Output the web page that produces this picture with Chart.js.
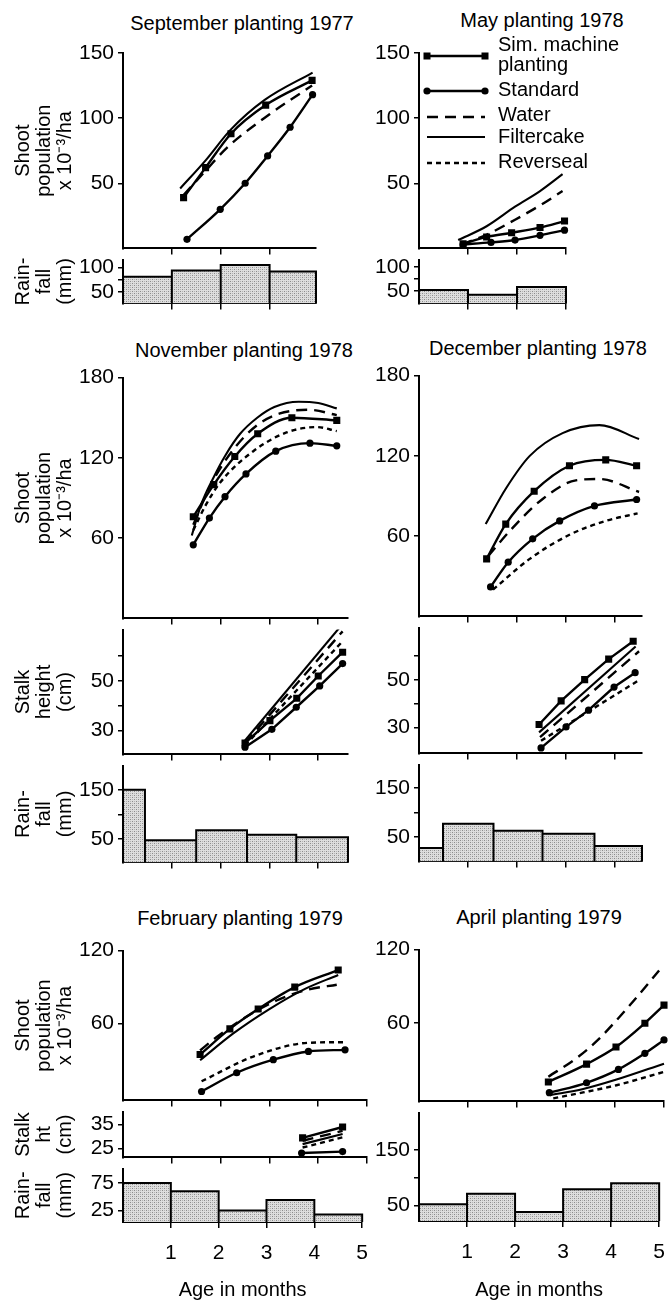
<!DOCTYPE html>
<html><head><meta charset="utf-8">
<script src="https://cdn.jsdelivr.net/npm/chart.js@4"></script>
<style>
body{margin:0;background:#fff;width:672px;height:1300px;position:relative;overflow:hidden;font-family:"Liberation Sans",Arial,Helvetica,sans-serif;}
canvas{position:absolute;}
.t{position:absolute;font-size:20px;color:#000;white-space:nowrap;transform:translate(-50%,-50%);line-height:1;}
</style></head><body>
<div class="t" style="left:242px;top:23px">September planting 1977</div>
<div class="t" style="left:542px;top:20px">May planting 1978</div>
<div class="t" style="left:244px;top:350px">November planting 1978</div>
<div class="t" style="left:538px;top:348px">December planting 1978</div>
<div class="t" style="left:240px;top:918px">February planting 1979</div>
<div class="t" style="left:539px;top:917px">April planting 1979</div>
<script>
// ---------- DATA (age in months, value) ----------
const AGE_TICKS = [1, 2, 3, 4, 5];
const LEGEND_LABELS = [['Sim. machine', 'planting'], ['Standard'], ['Water'], ['Filtercake'], ['Reverseal']];

// September planting 1977 – shoot population (x10^-3 /ha)
const sepSim    = [[1.24,39],[1.69,62],[2.21,88],[2.92,110],[3.87,129]];
const sepStd    = [[1.31,7],[1.99,30],[2.5,50],[2.96,71],[3.42,93],[3.88,118]];
const sepWater  = [[1.24,41],[1.7,60],[2.12,77],[3.0,103],[3.87,125]];
const sepFilter = [[1.17,46],[1.7,68],[2.2,91],[2.9,114],[3.88,135]];
const sepRainEdges = [0,1,2,3,3.95];
const sepRain      = [81,94,105,92];

// May planting 1978
const maySim    = [[0.9,3.5],[1.38,8.8],[1.89,12],[2.47,16],[2.97,21]];
const mayStd    = [[0.9,3],[1.47,4.6],[1.96,6.4],[2.47,10],[2.97,14]];
const mayWater  = [[0.87,3],[1.41,11],[1.96,22],[2.47,33],[2.93,44]];
const mayFilter = [[0.8,6.4],[1.38,17],[1.96,32],[2.47,44],[2.93,57]];
const mayRainEdges = [0,1,2,3];
const mayRain      = [52,42,58];

// November planting 1978
const novSim    = [[1.44,76],[1.86,100],[2.29,121],[2.76,138],[3.46,150],[4.38,148]];
const novStd    = [[1.44,55],[1.77,75],[2.09,91],[2.52,108],[3.13,125],[3.83,131],[4.38,129]];
const novWater  = [[1.44,70],[1.8,100],[2.3,128],[2.77,145],[3.2,153],[3.8,156],[4.38,152]];
const novFilter = [[1.41,62],[1.6,85],[1.85,105],[2.1,122],[2.4,138],[2.75,150],[3.1,158],[3.6,162],[4.0,161],[4.38,157]];
const novRev    = [[1.44,66],[1.7,85],[2.0,102],[2.67,125],[3.35,139],[3.97,143],[4.38,140]];
const novStalkSim    = [[2.5,25],[3.01,34],[3.56,43],[4.0,52],[4.5,61.6]];
const novStalkStd    = [[2.5,23.3],[3.05,30.5],[3.55,39.4],[4.03,48],[4.5,57]];
const novStalkWater  = [[2.5,25],[4.5,70]];
const novStalkFilter = [[2.5,26],[4.5,73]];
const novStalkRev    = [[2.5,24],[4.5,66]];
const novRainEdges = [0,0.45,1.5,2.54,3.55,4.61];
const novRain      = [150,48,68,59,54];

// December planting 1978
const decSim    = [[1.38,43],[1.77,69],[2.35,93.6],[3.07,112.6],[3.81,117],[4.44,112.6]];
const decStd    = [[1.46,22],[1.82,40.5],[2.32,58],[2.87,71.4],[3.58,82.6],[4.44,87.4]];
const decWater  = [[1.41,45],[1.88,65],[2.53,88],[3.2,101.7],[3.68,102.7],[4.49,93]];
const decFilter = [[1.36,69],[1.78,96],[2.26,120],[2.93,137],[3.68,143],[4.49,132.6]];
const decRev    = [[1.51,20],[2.26,43],[3.07,61],[3.81,71.4],[4.46,77]];
const decStalkSim    = [[2.45,31.3],[2.9,41.2],[3.38,50.1],[3.87,58.7],[4.37,66.2]];
const decStalkStd    = [[2.49,21.5],[3.0,30.3],[3.46,37.3],[3.98,47],[4.41,53]];
const decStalkWater  = [[2.47,26],[4.49,62]];
const decStalkFilter = [[2.45,28],[4.42,64]];
const decStalkRev    = [[2.49,24.5],[4.46,49.5]];
const decRainEdges = [0,0.49,1.52,2.52,3.58,4.55];
const decRain      = [28,77,63,57,32];

// February planting 1979
const febSim    = [[1.58,34.7],[2.19,55.7],[2.77,72],[3.52,90],[4.41,104]];
const febStd    = [[1.61,4.3],[2.33,19.7],[3.08,30.4],[3.8,37.2],[4.55,38.5]];
const febWater  = [[1.58,38],[1.92,49],[2.5,65],[3.2,80],[3.8,88],[4.38,92]];
const febFilter = [[1.58,30],[2.26,52],[3.0,72],[3.7,88],[4.41,100]];
const febRev    = [[1.61,12.7],[2.67,33],[3.8,44.3],[4.58,44.8]];
const febStalkSim    = [[3.68,29.4],[4.5,33.9]];
const febStalkStd    = [[3.66,23.1],[4.5,23.7]];
const febStalkWater  = [[3.68,28.2],[4.5,32.3]];
const febStalkFilter = [[3.68,26.8],[4.5,31]];
const febStalkRev    = [[3.68,25.4],[4.5,29.6]];
const febRainEdges = [0,1,2,3,4,5];
const febRain      = [75,60,25,44,18];

// April planting 1979
const aprSim    = [[2.64,12],[3.42,26.6],[4.02,40.5],[4.61,60],[5.0,74.7]];
const aprStd    = [[2.66,3.3],[3.42,11.4],[4.07,22.3],[4.61,35.4],[5.0,46.3]];
const aprWater  = [[2.64,16.4],[3.2,31],[3.63,45.5],[4.31,75],[4.9,103]];
const aprFilter = [[2.67,1.3],[3.35,6.3],[4.03,14],[5.0,27]];
const aprRev    = [[2.74,-1.3],[3.35,3.5],[4.03,9.4],[5.0,20.3]];
const aprRainEdges = [0,1,2,3,4,5];
const aprRain      = [52,71,38,79,90];

// ---------- STYLE / BUILD ----------
const FONT = '"Liberation Sans", Arial, Helvetica, sans-serif';
Chart.defaults.font.family = FONT;
Chart.defaults.color = '#000';
const COLS = { L:{x0:0, yw:123, ppm:48.8}, R:{x0:336, yw:83, ppm:49} };
const SHOOT_T = ['Shoot','population','x 10\u207B\u00B3/ha'];
const RAIN_T = ['Rain-','fall','(mm)'];

const PAT = (()=>{ const c=document.createElement('canvas'); c.width=4; c.height=4; const g=c.getContext('2d');
  g.fillStyle='#dedede'; g.fillRect(0,0,4,4);
  g.fillStyle='#8c8c8c'; g.fillRect(0,0,1,1); g.fillRect(2,2,1,1);
  g.fillStyle='#b4b4b4'; g.fillRect(2,0,1,1); g.fillRect(0,2,1,1);
  return g.createPattern(c,'repeat'); })();

const STY = {
  sim:    {borderWidth:2.4, pointStyle:'rect', pointRadius:5, borderDash:[]},
  std:    {borderWidth:2.4, pointStyle:'circle', pointRadius:3.6, borderDash:[]},
  water:  {borderWidth:2.4, borderDash:[11,7], pointRadius:0},
  filter: {borderWidth:2.1, borderDash:[], pointRadius:0},
  rev:    {borderWidth:2.4, borderDash:[5,4], pointRadius:0}
};
function ds(pairs, key, smooth, clipTop){
  return Object.assign({type:'line', data:pairs.map(p=>({x:p[0],y:p[1]})), borderColor:'#000', backgroundColor:'#000',
    pointBackgroundColor:'#000', pointBorderColor:'#000', pointBorderWidth:0, fill:false,
    tension: smooth?0.4:0, cubicInterpolationMode: smooth?'monotone':'default',
    clip:{left:8,right:8,top:clipTop?0:8,bottom:8}}, STY[key]);
}
function rainDs(edges, vals, base){
  const pts=[];
  for(let i=0;i<vals.length;i++){ pts.push({x:edges[i],y:base},{x:edges[i],y:vals[i]},{x:edges[i+1],y:vals[i]}); }
  pts.push({x:edges[vals.length],y:base});
  return {type:'line', data:pts, borderColor:'#000', borderWidth:2, pointRadius:0, tension:0, fill:'start', backgroundColor:PAT, clip:2};
}

const legendPlugin = {
  id:'mayLegend',
  afterDraw(chart){
    const ctx=chart.ctx, ca=chart.chartArea;
    const x0=ca.left+8, x1=ca.left+66, tx=ca.left+79;
    const lineY=[3,38,64,84,110], textY=[[-8,12],[37],[62],[84],[109]];
    const keys=['sim','std','water','filter','rev'];
    ctx.save();
    ctx.fillStyle='#000'; ctx.strokeStyle='#000';
    ctx.font='20px '+FONT; ctx.textBaseline='middle'; ctx.textAlign='left';
    keys.forEach((k,i)=>{
      const s=STY[k], y=ca.top+lineY[i];
      ctx.lineWidth=s.borderWidth; ctx.setLineDash(s.borderDash||[]);
      ctx.beginPath(); ctx.moveTo(x0,y); ctx.lineTo(x1,y); ctx.stroke();
      ctx.setLineDash([]);
      if(k==='sim'){ [x0,x1].forEach(x=>ctx.fillRect(x-3.5,y-3.5,7,7)); }
      if(k==='std'){ [x0,x1].forEach(x=>{ctx.beginPath();ctx.arc(x,y,3.6,0,Math.PI*2);ctx.fill();}); }
      LEGEND_LABELS[i].forEach((t,j)=>ctx.fillText(t,tx,ca.top+textY[i][j]));
    });
    ctx.restore();
  }
};

function panel(o){
  const col=COLS[o.col], pt=o.pt??14, pr=o.pr??14, xh=o.xh??8;
  const cw=Math.round(col.yw+o.xmax*col.ppm+pr), ch=Math.round(pt+(o.bottom-o.top)+xh);
  const cv=document.createElement('canvas'); cv.width=cw; cv.height=ch;
  cv.style.left=col.x0+'px'; cv.style.top=(o.top-pt)+'px'; cv.style.width=cw+'px'; cv.style.height=ch+'px';
  document.body.appendChild(cv);
  const xt=AGE_TICKS.filter(v=>v<=o.xmax+1e-6);
  const datasets = o.rain ? [rainDs(o.rain[0], o.rain[1], o.ymin)]
                          : o.series.map(s=>ds(s[0], s[1], !o.straight, o.straight));
  new Chart(cv, {
    type:'line',
    data:{datasets},
    options:{
      responsive:false, animation:false, events:[],
      layout:{padding:{top:pt,right:pr,left:0,bottom:0}},
      plugins:{legend:{display:false}, tooltip:{enabled:false}},
      scales:{
        x:{type:'linear', min:0, max:o.xmax, position:'bottom',
          afterFit:a=>{a.height=xh;},
          afterBuildTicks:a=>{a.ticks=xt.map(v=>({value:v}));},
          grid:{drawOnChartArea:false, drawTicks:true, tickLength:6, color:'#000', lineWidth:1.5},
          border:{display:true, color:'#000', width:2},
          ticks:{display:!!o.bottomLabels, color:'#000', font:{family:FONT,size:21}, padding:13, maxRotation:0, autoSkip:false, callback:v=>String(v)},
          title:{display:!!o.bottomLabels, text:'Age in months', color:'#000', font:{family:FONT,size:20,lineHeight:1}, padding:0}
        },
        y:{type:'linear', min:o.ymin, max:o.ymax,
          afterFit:a=>{a.width=col.yw;},
          afterBuildTicks:a=>{a.ticks=o.yt.map(v=>({value:v}));},
          grid:{drawOnChartArea:false, drawTicks:true, tickLength:5, color:'#000', lineWidth:1.5},
          border:{display:true, color:'#000', width:2},
          ticks:{color:'#000', font:{family:FONT,size:21}, padding:4, autoSkip:false, callback:v=>(o.ylab||o.yt).includes(v)?String(v):''},
          title:{display:!!o.ytitle, text:o.ytitle||'', color:'#000', font:{family:FONT,size:20,lineHeight:1.05}, padding:{top:13,bottom:0}}
        }
      }
    },
    plugins: o.legend ? [legendPlugin] : []
  });
}

// Row 1
panel({col:'L', top:53, bottom:257, pt:30, xmax:3.95, ymin:0, ymax:150, yt:[50,100,150], ytitle:SHOOT_T,
  series:[[sepFilter,'filter'],[sepWater,'water'],[sepSim,'sim'],[sepStd,'std']]});
panel({col:'L', top:257, bottom:312, xmax:3.95, ymin:27, ymax:116, yt:[50,75,100], ylab:[50,100], ytitle:RAIN_T, rain:[sepRainEdges,sepRain]});
panel({col:'R', top:53, bottom:257, pt:30, pr:100, xmax:3, ymin:0, ymax:150, yt:[50,100,150], legend:true,
  series:[[mayFilter,'filter'],[mayWater,'water'],[maySim,'sim'],[mayStd,'std']]});
panel({col:'R', top:257, bottom:312, xmax:3, ymin:24, ymax:115, yt:[50,75,100], ylab:[50,100], rain:[mayRainEdges,mayRain]});
// Row 2
panel({col:'L', top:375, bottom:627, xmax:4.61, ymin:0, ymax:180, yt:[60,120,180], ytitle:SHOOT_T,
  series:[[novFilter,'filter'],[novWater,'water'],[novRev,'rev'],[novSim,'sim'],[novStd,'std']]});
panel({col:'L', top:627, bottom:763, xmax:4.61, ymin:20.4, ymax:70.7, yt:[30,40,50,60], ylab:[30,50], ytitle:['Stalk','height','(cm)'], straight:true,
  series:[[novStalkFilter,'filter'],[novStalkWater,'water'],[novStalkRev,'rev'],[novStalkSim,'sim'],[novStalkStd,'std']]});
panel({col:'L', top:763, bottom:871, xmax:4.61, ymin:3, ymax:199, yt:[50,100,150], ylab:[50,150], ytitle:RAIN_T, rain:[novRainEdges,novRain]});
panel({col:'R', top:373, bottom:625, xmax:4.55, ymin:0, ymax:180, yt:[60,120,180],
  series:[[decFilter,'filter'],[decWater,'water'],[decRev,'rev'],[decSim,'sim'],[decStd,'std']]});
panel({col:'R', top:625, bottom:762, xmax:4.55, ymin:19.2, ymax:71.9, yt:[30,40,50,60], ylab:[30,50], straight:true,
  series:[[decStalkFilter,'filter'],[decStalkWater,'water'],[decStalkRev,'rev'],[decStalkSim,'sim'],[decStalkStd,'std']]});
panel({col:'R', top:762, bottom:870, xmax:4.55, ymin:1, ymax:197, yt:[50,100,150], ylab:[50,150], rain:[decRainEdges,decRain]});
// Row 3
panel({col:'L', top:948, bottom:1109, xmax:5, ymin:-3, ymax:120, yt:[60,120], ytitle:SHOOT_T,
  series:[[febFilter,'filter'],[febWater,'water'],[febRev,'rev'],[febSim,'sim'],[febStd,'std']]});
panel({col:'L', top:1109, bottom:1166, xmax:5, ymin:21.3, ymax:40.3, yt:[25,35], ytitle:['Stalk','ht','(cm)'], straight:true,
  series:[[febStalkFilter,'filter'],[febStalkWater,'water'],[febStalkRev,'rev'],[febStalkSim,'sim'],[febStalkStd,'std']]});
panel({col:'L', top:1166, bottom:1222, xmax:5, ymin:4.3, ymax:101, yt:[25,75], ytitle:RAIN_T, rain:[febRainEdges,febRain], bottomLabels:true, xh:78});
panel({col:'R', top:947, bottom:1110, xmax:5, ymin:-3.8, ymax:120, yt:[60,120],
  series:[[aprFilter,'filter'],[aprWater,'water'],[aprRev,'rev'],[aprSim,'sim'],[aprStd,'std']]});
panel({col:'R', top:1110, bottom:1221, xmax:5, ymin:22, ymax:217, yt:[50,100,150], ylab:[50,150], rain:[aprRainEdges,aprRain], bottomLabels:true, xh:79});
</script>
</body></html>
